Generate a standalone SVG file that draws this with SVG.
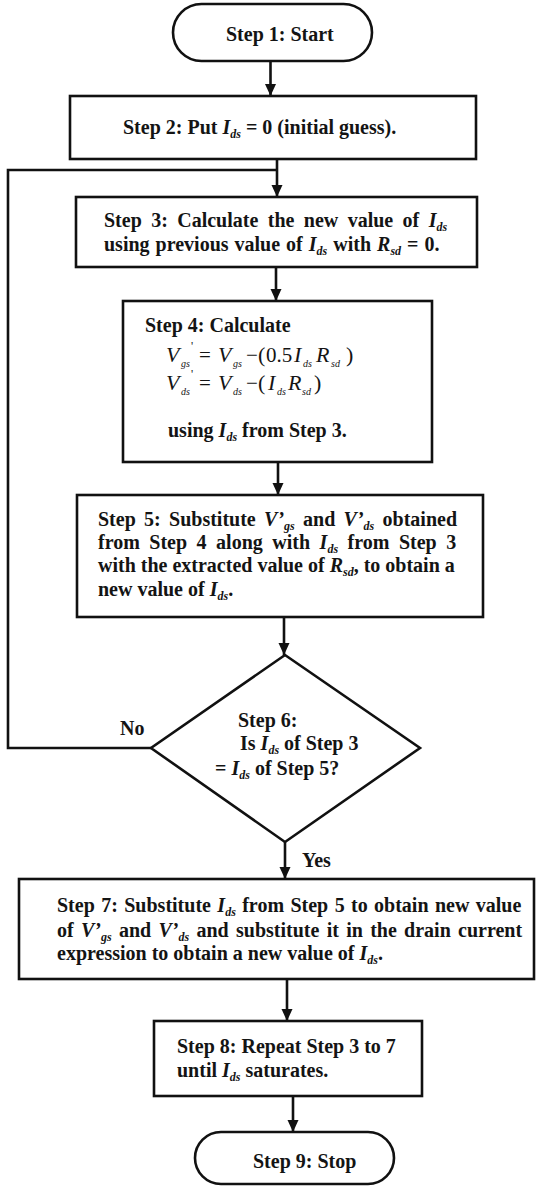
<svg xmlns="http://www.w3.org/2000/svg" width="539" height="1186" viewBox="0 0 539 1186">
<style>
.box{fill:#fff;stroke:#111;stroke-width:2.6}
.ln{fill:none;stroke:#111;stroke-width:2.6}
text{font-family:"Liberation Serif","Times New Roman",serif;font-weight:bold;font-size:20px;fill:#141414}
.i{font-style:italic}
.s{font-style:italic;font-size:12px}
.m{font-weight:normal;font-size:21px}
.mi{font-weight:normal;font-style:italic;font-size:22px}
.ms{font-weight:normal;font-style:italic;font-size:10px}
.mp{font-weight:normal;font-size:22px}
.pr{font-weight:normal;font-size:12px}
</style>
<defs>
<marker id="ah" markerUnits="userSpaceOnUse" markerWidth="12" markerHeight="12" refX="12" refY="5.5" orient="auto">
<path d="M0,0 L12,5.5 L0,11 z" fill="#111"/>
</marker>
</defs>
<rect width="539" height="1186" fill="#fff"/>
<g id="connectors">
<path class="ln" d="M270.5,61 V96" marker-end="url(#ah)"/>
<path class="ln" d="M277,159 V197" marker-end="url(#ah)"/>
<path class="ln" d="M151,748 H8 V170 H277"/>
<path class="ln" d="M276,267 V301" marker-end="url(#ah)"/>
<path class="ln" d="M278,462 V495" marker-end="url(#ah)"/>
<path class="ln" d="M284,617 V655" marker-end="url(#ah)"/>
<path class="ln" d="M285,842 V879" marker-end="url(#ah)"/>
<path class="ln" d="M287,979 V1021" marker-end="url(#ah)"/>
<path class="ln" d="M293,1096 V1132" marker-end="url(#ah)"/>
<text x="120" y="735">No</text>
<text x="302" y="867">Yes</text>
</g>
<g id="step1">
<rect class="box" x="173" y="4" width="199" height="57" rx="28.5"/>
<text x="226" y="41">Step 1: Start</text>
</g>
<g id="step2">
<rect class="box" x="70" y="96" width="406" height="63"/>
<text x="123" y="134">Step 2: Put <tspan class="i">I</tspan><tspan class="s" dy="4">ds</tspan><tspan dy="-4"> = 0 (initial guess).</tspan></text>
</g>
<g id="step3">
<rect class="box" x="76" y="197" width="401" height="70"/>
<text x="104" y="227" word-spacing="4.4">Step 3: Calculate the new value of <tspan class="i">I</tspan><tspan class="s" dy="4">ds</tspan></text>
<text x="104" y="251" word-spacing="1">using previous value of <tspan class="i">I</tspan><tspan class="s" dy="4">ds</tspan><tspan dy="-4"> with </tspan><tspan class="i">R</tspan><tspan class="s" dy="4">sd</tspan><tspan dy="-4"> = 0.</tspan></text>
</g>
<g id="step4">
<rect class="box" x="123" y="301" width="309" height="161"/>
<text x="145" y="332">Step 4: Calculate</text>
<text y="362"><tspan class="mi" x="166">V</tspan><tspan class="ms" x="181" dy="5">gs</tspan><tspan class="m" x="199" dy="-5">=</tspan><tspan class="mi" x="218">V</tspan><tspan class="ms" x="233" dy="5">gs</tspan><tspan class="m" x="246" dy="-5">−</tspan><tspan class="mp" x="258">(</tspan><tspan class="m" x="266">0.5</tspan><tspan class="mi" x="294">I</tspan><tspan class="ms" x="303" dy="5">ds</tspan><tspan class="mi" x="316" dy="-5">R</tspan><tspan class="ms" x="331" dy="5">sd</tspan><tspan class="mp" x="346" dy="-5">)</tspan></text>
<text class="pr" x="191" y="350">'</text>
<text y="390"><tspan class="mi" x="166">V</tspan><tspan class="ms" x="181" dy="5">ds</tspan><tspan class="m" x="199" dy="-5">=</tspan><tspan class="mi" x="218">V</tspan><tspan class="ms" x="233" dy="5">ds</tspan><tspan class="m" x="246" dy="-5">−</tspan><tspan class="mp" x="258">(</tspan><tspan class="mi" x="268">I</tspan><tspan class="ms" x="277" dy="5">ds</tspan><tspan class="mi" x="288" dy="-5">R</tspan><tspan class="ms" x="302" dy="5">sd</tspan><tspan class="mp" x="314" dy="-5">)</tspan></text>
<text class="pr" x="191" y="378">'</text>
<text x="168" y="437">using <tspan class="i">I</tspan><tspan class="s" dy="4">ds</tspan><tspan dy="-4"> from Step 3.</tspan></text>
</g>
<g id="step5">
<rect class="box" x="77" y="495" width="406" height="122"/>
<text x="98" y="526" word-spacing="3.3">Step 5: Substitute <tspan class="i">V’</tspan><tspan class="s" dy="4">gs</tspan><tspan dy="-4"> and </tspan><tspan class="i">V’</tspan><tspan class="s" dy="4">ds</tspan><tspan dy="-4"> obtained</tspan></text>
<text x="98" y="549" word-spacing="4.5">from Step 4 along with <tspan class="i">I</tspan><tspan class="s" dy="4">ds</tspan><tspan dy="-4"> from Step 3</tspan></text>
<text x="98" y="572">with the extracted value of <tspan class="i">R</tspan><tspan class="s" dy="4">sd</tspan><tspan dy="-4">, to obtain a</tspan></text>
<text x="98" y="596">new value of <tspan class="i">I</tspan><tspan class="s" dy="4">ds</tspan><tspan dy="-4">.</tspan></text>
</g>
<g id="step6">
<path class="box" d="M285,655 L420,748 L285,842 L151,748 Z"/>
<text x="238" y="727">Step 6:</text>
<text x="240" y="750">Is <tspan class="i">I</tspan><tspan class="s" dy="4">ds</tspan><tspan dy="-4"> of Step 3</tspan></text>
<text x="215" y="775">= <tspan class="i">I</tspan><tspan class="s" dy="4">ds</tspan><tspan dy="-4"> of Step 5?</tspan></text>
</g>
<g id="step7">
<rect class="box" x="19" y="879" width="515" height="100"/>
<text x="57" y="912" word-spacing="1.4">Step 7: Substitute <tspan class="i">I</tspan><tspan class="s" dy="4">ds</tspan><tspan dy="-4"> from Step 5 to obtain new value</tspan></text>
<text x="57" y="937" word-spacing="2.3">of <tspan class="i">V’</tspan><tspan class="s" dy="4">gs</tspan><tspan dy="-4"> and </tspan><tspan class="i">V’</tspan><tspan class="s" dy="4">ds</tspan><tspan dy="-4"> and substitute it in the drain current</tspan></text>
<text x="57" y="960">expression to obtain a new value of <tspan class="i">I</tspan><tspan class="s" dy="4">ds</tspan><tspan dy="-4">.</tspan></text>
</g>
<g id="step8">
<rect class="box" x="154" y="1021" width="268" height="75"/>
<text x="177" y="1053">Step 8: Repeat Step 3 to 7</text>
<text x="177" y="1077">until <tspan class="i">I</tspan><tspan class="s" dy="4">ds</tspan><tspan dy="-4"> saturates.</tspan></text>
</g>
<g id="step9">
<rect class="box" x="195" y="1132" width="199" height="52" rx="26"/>
<text x="253" y="1168">Step 9: Stop</text>
</g>
</svg>
